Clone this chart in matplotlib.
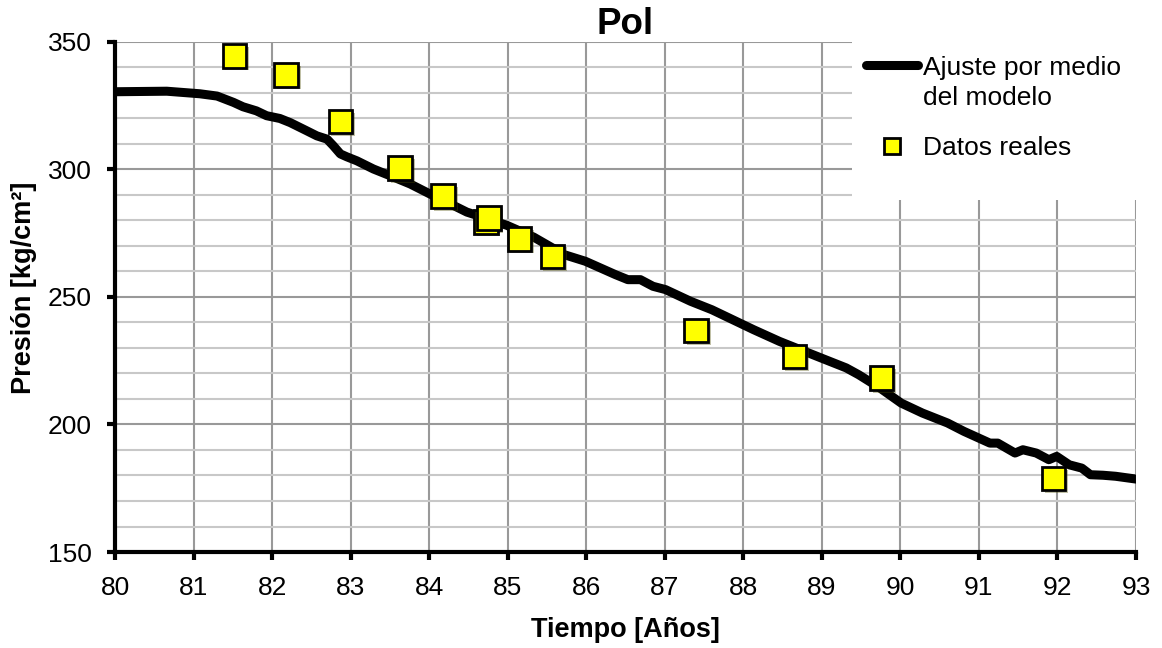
import matplotlib.pyplot as plt
import matplotlib.patheffects as pe
from matplotlib.ticker import MultipleLocator

plt.rcParams['font.family'] = ['Liberation Sans', 'DejaVu Sans']

# curva del modelo
t_mod = [80.02, 80.66, 81.08, 81.30, 81.51, 81.63, 81.80, 81.93, 82.10, 82.23,
         82.44, 82.57, 82.70, 82.78, 82.87, 82.95, 83.08, 83.29, 83.50, 83.76,
         84.01, 84.27, 84.48, 84.74, 84.99, 85.33, 85.72, 85.99, 86.37, 86.53,
         86.69, 86.85, 87.01, 87.33, 87.60, 88.13, 88.46, 88.99, 89.31, 89.47,
         89.74, 90.01, 90.28, 90.60, 90.81, 91.14, 91.24, 91.46, 91.56, 91.73,
         91.89, 91.99, 92.15, 92.31, 92.42, 92.58, 92.74, 93.0]
p_mod = [330.5, 330.7, 329.7, 328.8, 326.3, 324.6, 323.0, 321.1, 320.0, 318.4,
         315.2, 313.2, 311.9, 309.3, 306.1, 305.0, 303.4, 300.2, 297.6, 294.3,
         290.4, 286.5, 283.3, 280.7, 278.1, 273.5, 266.6, 264.0, 258.8, 256.8,
         256.8, 254.2, 252.9, 248.3, 245.0, 237.2, 232.6, 226.1, 222.2, 219.5,
         214.3, 208.4, 204.5, 200.6, 197.3, 192.7, 192.7, 188.8, 190.1, 188.8,
         186.2, 187.5, 184.2, 182.9, 180.3, 180.1, 179.7, 178.6]

# datos reales
t_obs = [81.52, 82.18, 82.87, 83.63, 84.18, 84.72, 84.76, 85.15, 85.57, 87.40,
         88.65, 89.76, 91.95]
p_obs = [344.6, 337.1, 318.8, 300.5, 289.6, 279.5, 280.9, 272.8, 265.9, 236.8,
         226.7, 218.2, 178.8]

lbl_mod = 'Ajuste por medio\ndel modelo'
lbl_obs = 'Datos reales'

fig = plt.figure(figsize=(11.62, 6.48), dpi=100)
ax = fig.add_axes([115/1162, 1 - 552/648, (1136 - 115)/1162, (552 - 42)/648])

shadow = [pe.SimplePatchShadow(offset=(2, -2), alpha=0.35), pe.Normal()]
ax.plot(t_mod, p_mod, color='black', lw=6.5, solid_capstyle='round', zorder=3)
ax.plot(t_obs, p_obs, ls='none', marker='s', ms=17, mfc='#ffff00', mec='black',
        mew=2, zorder=4, path_effects=shadow)

ax.set_xlim(80, 93)
ax.set_ylim(150, 350)
ax.xaxis.set_major_locator(MultipleLocator(1))
ax.yaxis.set_major_locator(MultipleLocator(50))
ax.yaxis.set_minor_locator(MultipleLocator(10))
ax.grid(True, which='major', color='#999999', lw=1.5, zorder=0)
ax.grid(True, which='minor', axis='y', color='#c8c8c8', lw=1.5, zorder=0)
ax.set_axisbelow(True)

for s in ['top', 'right']:
    ax.spines[s].set_visible(False)
for s in ['left', 'bottom']:
    ax.spines[s].set_linewidth(3)
ax.tick_params(which='major', direction='out', length=6, width=3, labelsize=19)
ax.tick_params(axis='y', pad=11)
ax.tick_params(axis='x', pad=11.5)
ax.tick_params(which='minor', length=0)

ax.set_title('Pol', fontsize=26.5, fontweight='bold', pad=5)
ax.set_xlabel('Tiempo [Años]', fontsize=19.5, fontweight='bold')
ax.set_ylabel('Presión [kg/cm²]', fontsize=19.5, fontweight='bold')
ax.xaxis.set_label_coords(0.5, -(617 - 552)/510, transform=ax.transAxes)
ax.yaxis.set_label_coords(-(115 - 37)/1021, 0.5 + 9/510, transform=ax.transAxes)

# cuadro de leyenda (fondo blanco sobre la cuadricula)
lg = fig.add_axes([852/1162, 1 - 200/648, 310/1162, 164/648], zorder=10)
lg.set_xlim(852, 1162)
lg.set_ylim(200, 36)
lg.set_xticks([])
lg.set_yticks([])
for s in lg.spines.values():
    s.set_visible(False)
lg.plot([866, 918], [65, 65], color='black', lw=6.5, solid_capstyle='round')
lg.plot([892], [146], ls='none', marker='s', ms=12, mfc='#ffff00', mec='black', mew=2)
lg.text(923, 56, lbl_mod, fontsize=19, va='top', ha='left', linespacing=1.32)
lg.text(923, 148, lbl_obs, fontsize=19, va='center', ha='left')

fig.savefig('out.png', dpi=100)
